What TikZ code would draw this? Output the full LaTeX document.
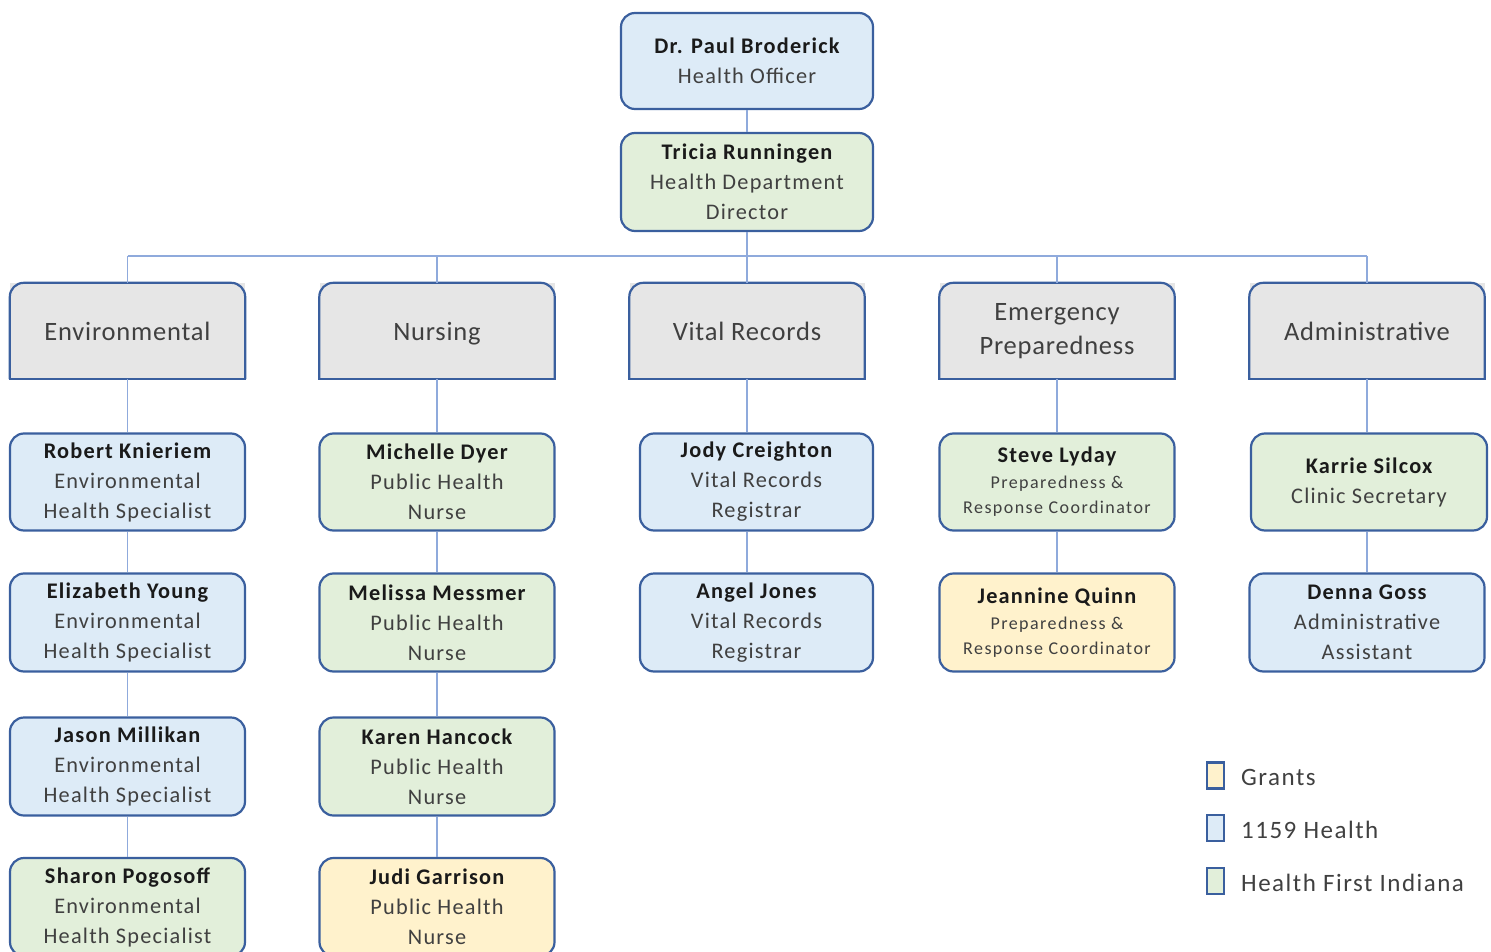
\documentclass[tikz,border=0pt]{standalone}
\usepackage{fontspec}
\setmainfont{Carlito}[LetterSpace=5.5]
\newfontfamily\deptfont{Carlito}[LetterSpace=3]
\newfontfamily\legfont{Carlito}[LetterSpace=6]
\newfontfamily\smallfont{Carlito}[LetterSpace=8]
\definecolor{bord}{HTML}{3A5F9E}
\definecolor{conn}{HTML}{8FAADC}
\definecolor{bluef}{HTML}{DDEBF7}
\definecolor{greenf}{HTML}{E2EFDA}
\definecolor{yellowf}{HTML}{FFF2CC}
\definecolor{grayf}{HTML}{E6E6E6}
\definecolor{namec}{HTML}{1A1A1A}
\definecolor{titlec}{HTML}{404040}
\newcommand{\person}[2]{{\bfseries\color{namec}#1}\\#2}
\newcommand{\smalltitle}{\smallfont\fontsize{18}{25}\selectfont}
\begin{document}
\begin{tikzpicture}[x=1pt,y=-1pt,
  box/.style={draw=bord, line width=2.2pt, rounded corners=14pt, align=center,
    inner sep=0pt, text=titlec, font=\fontsize{22.3}{30}\selectfont,
    minimum width=235pt, minimum height=97pt},
  bluebox/.style={box, fill=bluef},
  greenbox/.style={box, fill=greenf},
  yellowbox/.style={box, fill=yellowf},
  dept/.style={fill=grayf, align=center, inner sep=0pt, text=titlec,
    font=\deptfont\fontsize{26.5}{34}\selectfont, minimum width=235pt, minimum height=96pt},
  deptframe/.style={draw=bord, line width=2.2pt, rounded corners=14pt},
  conline/.style={draw=conn, line width=1.5pt},
  legsq/.style={draw=bord, line width=2.2pt, minimum width=17pt, minimum height=26pt, inner sep=0pt},
  legtxt/.style={anchor=west, inner sep=0pt, text=titlec, font=\legfont\fontsize{25}{28}\selectfont}
]
\useasboundingbox (0,0) rectangle (1491,952);
\clip (0,0) rectangle (1491,952);

\coordinate (bus) at (747,256);

% top
\node[bluebox, minimum width=252pt, minimum height=96pt] (paul) at (747,61)
  {\person{Dr. Paul Broderick}{Health Officer}};
\node[greenbox, minimum width=252pt, minimum height=98pt] (tricia) at (747,182)
  {\person{Tricia Runningen}{Health Department\\Director}};

% departments
\node[dept] (env) at (127.5,331) {Environmental};
\node[dept] (nur) at (437,331) {\raisebox{0pt}[\height][0pt]{Nursing}};
\node[dept] (vit) at (747,331) {Vital Records};
\node[dept] (eme) at (1057,331) {Emergency\\Preparedness};
\node[dept] (adm) at (1367,331) {Administrative};
\foreach \d in {env,nur,vit,eme,adm}{
  \draw[deptframe] (\d.south west) -- (\d.north west) -- (\d.north east) -- (\d.south east);
  \draw[draw=bord, line width=2.2pt, line cap=rect] (\d.south west) -- (\d.south east);
}

% row 1
\node[bluebox] (robert) at (127.5,482) {\person{Robert Knieriem}{Environmental\\Health Specialist}};
\node[greenbox] (michelle) at (437,482) {\person{Michelle Dyer}{Public Health\\Nurse}};
\node[bluebox, minimum width=233pt] (jody) at (756.5,482) {\person{Jody Creighton}{Vital Records\\Registrar}};
\node[greenbox, minimum height=97pt] (steve) at (1057,482) {{\bfseries\color{namec}Steve Lyday}\\[-4pt]\smalltitle Preparedness \&\\[-5pt]\smalltitle Response Coordinator};
\node[greenbox, minimum width=236pt] (karrie) at (1369,482) {\person{Karrie Silcox}{Clinic Secretary}};

% row 2
\node[bluebox, minimum height=98pt] (elizabeth) at (127.5,622.5) {\person{Elizabeth Young}{Environmental\\Health Specialist}};
\node[greenbox, minimum height=98pt] (melissa) at (437,622.5) {\person{Melissa Messmer}{Public Health\\Nurse}};
\node[bluebox, minimum width=233pt, minimum height=98pt] (angel) at (756.5,622.5) {\person{Angel Jones}{Vital Records\\Registrar}};
\node[yellowbox, minimum height=98pt] (jeannine) at (1057,622.5) {{\bfseries\color{namec}Jeannine Quinn}\\[-4pt]\smalltitle Preparedness \&\\[-5pt]\smalltitle Response Coordinator};
\node[bluebox, minimum height=98pt] (denna) at (1367,622.5) {\person{Denna Goss}{Administrative\\Assistant}};

% row 3
\node[bluebox, minimum height=98pt] (jason) at (127.5,766.5) {\person{Jason Millikan}{Environmental\\Health Specialist}};
\node[greenbox, minimum height=98pt] (karen) at (437,766.5) {\person{Karen Hancock}{Public Health\\Nurse}};

% row 4
\node[greenbox, minimum height=98pt] (sharon) at (127.5,907) {\person{Sharon Pogosoff}{Environmental\\Health Specialist}};
\node[yellowbox, minimum height=98pt] (judi) at (437,907) {\person{Judi Garrison}{Public Health\\Nurse}};

% connectors
\draw[conline] (paul.south) -- (tricia.north);
\draw[conline] (tricia.south) -- (bus);
\draw[conline] (env.north |- bus) -- (adm.north |- bus);
\foreach \d in {env,nur,vit,eme,adm}{
  \draw[conline] (\d.north |- bus) -- (\d.north);
}
\draw[conline] (env.south) -- (robert.north);
\draw[conline] (robert.south) -- (elizabeth.north);
\draw[conline] (elizabeth.south) -- (jason.north);
\draw[conline] (jason.south) -- (sharon.north);
\draw[conline] (nur.south) -- (michelle.north);
\draw[conline] (michelle.south) -- (melissa.north);
\draw[conline] (melissa.south) -- (karen.north);
\draw[conline] (karen.south) -- (judi.north);
\draw[conline] (vit.south) -- (vit.south |- jody.north);
\draw[conline] (jody.south -| vit.south) -- (angel.north -| vit.south);
\draw[conline] (eme.south) -- (steve.north);
\draw[conline] (steve.south) -- (jeannine.north);
\draw[conline] (adm.south) -- (adm.south |- karrie.north);
\draw[conline] (karrie.south -| adm.south) -- (denna.north);

% legend
\node[legsq, fill=yellowf] (lg1) at (1215.5,775.5) {};
\node[legtxt] (lt1) at (1241,777) {Grants};
\node[legsq, fill=bluef] (lg2) at (1215.5,828) {};
\node[legtxt] (lt2) at (1241,830) {1159 Health};
\node[legsq, fill=greenf] (lg3) at (1215.5,881) {};
\node[legtxt] (lt3) at (1241,883) {Health First Indiana};
\end{tikzpicture}
\end{document}
